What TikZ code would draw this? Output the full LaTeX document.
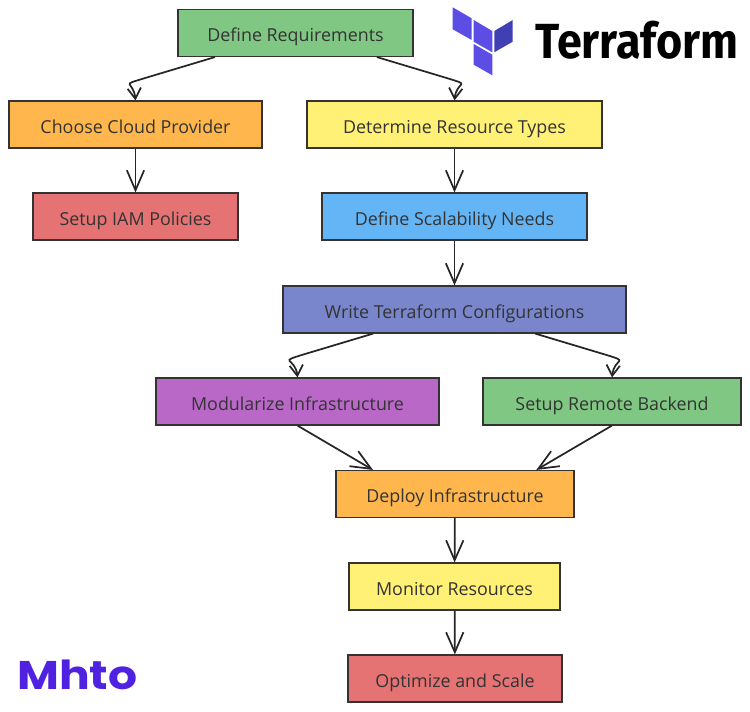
\documentclass[tikz,border=0pt]{standalone}
\usepackage{fontspec}
\setmainfont{Open Sans}
\newfontfamily\brandfont[FakeStretch=0.91]{Fira Sans}
\newfontfamily\mhtofont[FakeStretch=1.14]{Poppins}
\usetikzlibrary{arrows.meta}
\definecolor{cgreen}{HTML}{81C784}
\definecolor{corange}{HTML}{FFB74D}
\definecolor{cyellow}{HTML}{FFF176}
\definecolor{cblue}{HTML}{64B5F6}
\definecolor{cindigo}{HTML}{7986CB}
\definecolor{cpurple}{HTML}{BA68C8}
\definecolor{cred}{HTML}{E57373}
\definecolor{ink}{HTML}{333333}
\tikzset{
    flowbox/.style={
    rectangle,draw=ink,line width=1.1pt,text=ink,font=\fontsize{13.4}{16}\selectfont,
    minimum width=#1*0.75pt,minimum height=35pt,inner sep=0pt,
    text height=13.4pt,text depth=0pt
    },
    flow/.style={
    draw=black!85,line width=1.3pt,-{Straight Barb[length=15pt,width=13pt,line width=1.3pt]}
    },
    curved/.style={
    draw=black!85,line width=1.3pt,-{Straight Barb[length=8pt,width=10pt,line width=1.3pt]}
    },
}
\begin{document}
\begin{tikzpicture}[x=0.75pt,y=-0.75pt]
   \useasboundingbox (0,0) rectangle (750,711);

   \node[flowbox=235,fill=cgreen] (req) at (295.5,33) {Define Requirements};
   \node[flowbox=253,fill=corange] (cloud) at (135.5,124.5) {Choose Cloud Provider};
   \node[flowbox=295,fill=cyellow] (types) at (454.5,124.5) {Determine Resource Types};
   \node[flowbox=205,fill=cred] (iam) at (135.5,216.5) {Setup IAM Policies};
   \node[flowbox=265,fill=cblue] (scal) at (454.5,216.5) {Define Scalability Needs};
   \node[flowbox=343,fill=cindigo] (conf) at (454.5,309.5) {Write Terraform Configurations};
   \node[flowbox=283,fill=cpurple] (modul) at (297.5,401.5) {Modularize Infrastructure};
   \node[flowbox=258,fill=cgreen] (backend) at (612,401.5) {Setup Remote Backend};
   \node[flowbox=238,fill=corange] (deploy) at (455,494) {Deploy Infrastructure};
   \node[flowbox=211,fill=cyellow] (monitor) at (454.5,586.5) {Monitor Resources};
   \node[flowbox=214,fill=cred] (optimize) at (455,678.5) {Optimize and Scale};

   \draw[curved] ([xshift=-60.4pt]req.south) -- ++(-70,21) .. controls +(-26,8) and +(-2,-20) .. (cloud.north);
   \draw[curved] ([xshift=61pt]req.south) -- ++(70,21) .. controls +(26,8) and +(2,-20) .. (types.north);
   \draw[curved] ([xshift=-61pt]conf.south) -- ++(-70,21) .. controls +(-26,8) and +(-2,-20) .. (modul.north);
   \draw[curved] ([xshift=60.5pt]conf.south) -- ++(70,21) .. controls +(26,8) and +(2,-20) .. (backend.north);

   \draw[flow] (cloud) -- (iam);
   \draw[flow] (types) -- (scal);
   \draw[flow] (scal) -- (conf);
   \draw[flow] (modul.south) -- ([xshift=-61.5pt]deploy.north);
   \draw[flow] (backend.south) -- ([xshift=61pt]deploy.north);
   \draw[flow] (deploy) -- (monitor);
   \draw[flow] (monitor) -- (optimize);

   % logos
   \fill[color={rgb,255:red,92;green,78;blue,229}] (452.7,7.3) -- (471.7,18.3) -- (471.7,40) -- (452.7,29.3) -- cycle;
   \fill[color={rgb,255:red,92;green,78;blue,229}] (473.7,20) -- (492.3,31) -- (492.3,52.3) -- (473.7,41.7) -- cycle;
   \fill[color={rgb,255:red,64;green,64;blue,178}] (494.3,31) -- (512.7,20) -- (512.7,41.7) -- (494.3,52.3) -- cycle;
   \fill[color={rgb,255:red,92;green,78;blue,229}] (473.7,44) -- (492.3,54.7) -- (492.3,75.3) -- (473.7,64.7) -- cycle;
   \node[anchor=base west,inner sep=0pt,font=\brandfont\bfseries\fontsize{37}{40}\selectfont] (brand) at (535,58) {Terraform};
   \node[anchor=base west,inner sep=0pt,text={rgb,255:red,78;green,34;blue,224},font=\mhtofont\bfseries\fontsize{30}{32}\selectfont] (mhto) at (17,689) {Mhto};
\end{tikzpicture}
\end{document}
